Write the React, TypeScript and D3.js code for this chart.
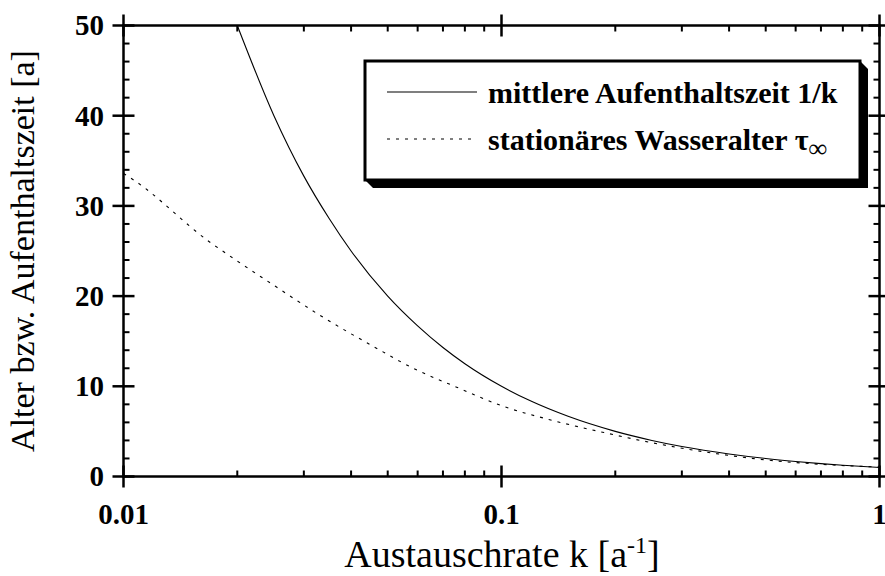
import React from 'react'
import * as d3 from 'd3'

// solid curve: mittlere Aufenthaltszeit 1/k
const kSolid = [0.02, 0.025, 0.03, 0.035, 0.04, 0.05, 0.06, 0.07, 0.08, 0.1, 0.12, 0.15, 0.2, 0.25, 0.3, 0.4, 0.5, 0.6, 0.7, 0.8, 1.0]
const tSolid = [50, 40, 33.3, 28.6, 25, 20, 16.7, 14.3, 12.5, 10, 8.33, 6.67, 5, 4, 3.33, 2.5, 2, 1.67, 1.43, 1.25, 1]

// dashed curve: stationaeres Wasseralter
const kDash = [0.01, 0.0107, 0.0169, 0.0195, 0.0254, 0.033, 0.0459, 0.0584, 0.0761, 0.1, 0.137, 0.19, 0.233, 0.342, 0.503, 0.755, 1.0]
const tDash = [33.6, 32.8, 26.0, 24.2, 21.0, 17.9, 14.4, 12.0, 9.9, 7.85, 6.2, 4.8, 4.0, 2.75, 1.83, 1.27, 1.05]

const xTicks = [0.01, 0.1, 1]
const xTickLabels = ['0.01', '0.1', '1']
const yTicks = [0, 10, 20, 30, 40, 50]

const W = 885
const H = 576
const left = 123.5, right = 879.5, top = 25.5, bottom = 476.5

export default function App() {
  const x = d3.scaleLog().domain([0.01, 1]).range([left, right])
  const y = d3.scaleLinear().domain([0, 50]).range([bottom, top])

  const line = d3.line<[number, number]>()
    .x(d => x(d[0]))
    .y(d => y(d[1]))
    .curve(d3.curveMonotoneX)

  const solid = line(kSolid.map((k, i) => [k, tSolid[i]]))
  const dashed = line(kDash.map((k, i) => [k, tDash[i]]))

  // minor ticks
  const xMinor: number[] = []
  for (const dec of [0.01, 0.1]) for (let m = 2; m <= 9; m++) xMinor.push(dec * m)
  const yMinor: number[] = []
  for (let v = 0; v < 50; v += 2) if (v % 10 !== 0) yMinor.push(v)

  const major = 11, minor = 6
  const axisW = 2.5
  const font = '"Liberation Serif", "Times New Roman", serif'

  // legend box
  const bx0 = 365, by0 = 61, bx1 = 860, by1 = 180, sh = 8

  return (
    <svg width={W} height={H} style={{ position: 'absolute', left: 0, top: 0, background: '#fff' }} fontFamily={font}>
      {/* curves */}
      <path d={solid ?? ''} fill="none" stroke="#000" strokeWidth={1.1} />
      <path d={dashed ?? ''} fill="none" stroke="#000" strokeWidth={1.1} strokeDasharray="3 6" />

      {/* frame */}
      <rect x={left} y={top} width={right - left} height={bottom - top} fill="none" stroke="#000" strokeWidth={axisW} />

      {/* x ticks */}
      {xMinor.map(v => (
        <g key={'xm' + v}>
          <line x1={x(v)} x2={x(v)} y1={bottom} y2={bottom - minor} stroke="#000" strokeWidth={2} />
          <line x1={x(v)} x2={x(v)} y1={top} y2={top + minor} stroke="#000" strokeWidth={2} />
        </g>
      ))}
      {xTicks.map((v, i) => (
        <g key={'xM' + v}>
          <line x1={x(v)} x2={x(v)} y1={bottom - major} y2={bottom + major} stroke="#000" strokeWidth={axisW} />
          <line x1={x(v)} x2={x(v)} y1={top - major} y2={top + major} stroke="#000" strokeWidth={axisW} />
          <text x={x(v)} y={524} textAnchor="middle" fontSize={29} fontWeight="bold">{xTickLabels[i]}</text>
        </g>
      ))}

      {/* y ticks */}
      {yMinor.map(v => (
        <g key={'ym' + v}>
          <line x1={left} x2={left + minor} y1={y(v)} y2={y(v)} stroke="#000" strokeWidth={2} />
          <line x1={right} x2={right - minor} y1={y(v)} y2={y(v)} stroke="#000" strokeWidth={2} />
        </g>
      ))}
      {yTicks.map(v => (
        <g key={'yM' + v}>
          <line x1={left - major} x2={left + major} y1={y(v)} y2={y(v)} stroke="#000" strokeWidth={axisW} />
          <line x1={right - major} x2={right + major} y1={y(v)} y2={y(v)} stroke="#000" strokeWidth={axisW} />
          <text x={104} y={y(v)} dy="0.34em" textAnchor="end" fontSize={29} fontWeight="bold">{v}</text>
        </g>
      ))}

      {/* axis titles */}
      <text x={502} y={567} textAnchor="middle" fontSize={38}>
        Austauschrate k [a<tspan dy={-14} fontSize={24}>-1</tspan><tspan dy={14}>]</tspan>
      </text>
      <text transform={`translate(34, ${(top + bottom) / 2}) rotate(-90)`} textAnchor="middle" fontSize={34}>
        Alter bzw. Aufenthaltszeit [a]
      </text>

      {/* legend */}
      <path d={`M${bx0},${by1} L${bx0 + sh},${by1 + sh} L${bx1 + sh},${by1 + sh} L${bx1 + sh},${by0 + sh} L${bx1},${by0} Z`} fill="#000" />
      <rect x={bx0} y={by0} width={bx1 - bx0} height={by1 - by0} fill="#fff" stroke="#000" strokeWidth={3} />
      <line x1={387} x2={477} y1={92} y2={92} stroke="#000" strokeWidth={1.1} />
      <line x1={387} x2={477} y1={139} y2={139} stroke="#000" strokeWidth={1.1} strokeDasharray="3 6" />
      <text x={488} y={103} fontSize={30} fontWeight="bold">mittlere Aufenthaltszeit 1/k</text>
      <text x={488} y={150} fontSize={30} fontWeight="bold">
        stationäres Wasseralter τ<tspan dy={7} fontSize={26}>∞</tspan>
      </text>
    </svg>
  )
}
